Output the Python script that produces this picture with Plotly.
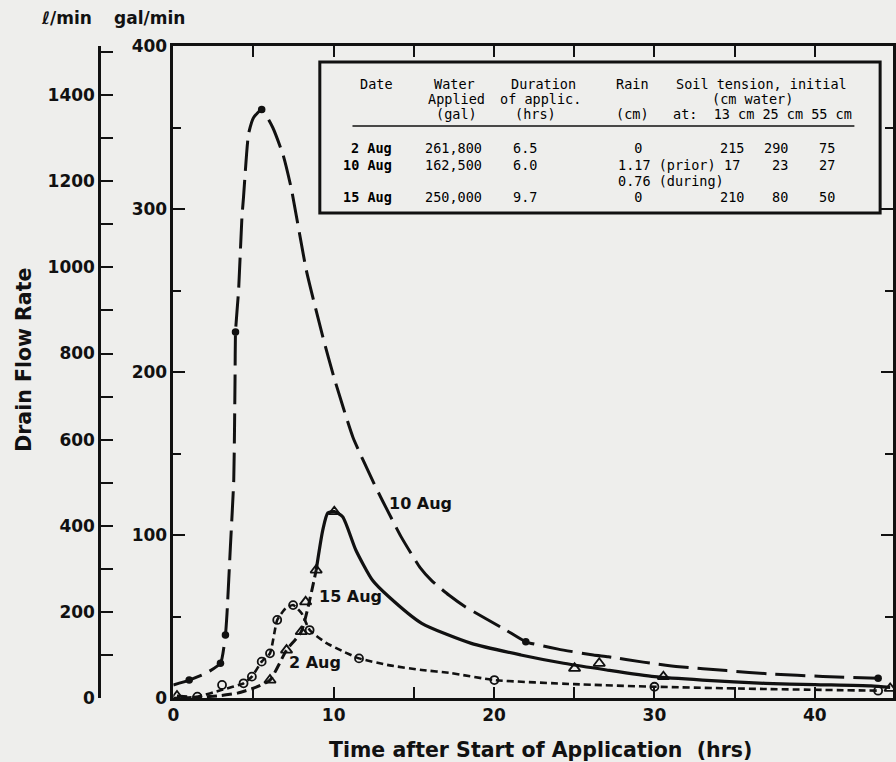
import plotly.graph_objects as go

GAL_TO_L = 3.78541

# ---------------- data ----------------
# 10 Aug (long dashes, filled dots)
aug10_t = [0.0, 0.99, 2.0, 2.94, 3.25, 3.35, 3.56, 3.77, 3.85, 3.88, 4.07, 4.28, 4.38, 4.69, 5.0, 5.51,
           6.2, 6.85, 7.37, 8.29, 9.32, 10.04, 11.2, 12.51, 13.02, 14.2, 15.39, 16.11, 17.2, 18.2, 20.74,
           21.98, 24.0, 26.19, 27.12, 29.3, 31.54, 34.5, 37.3, 40.5, 43.4, 43.95]
aug10_q = [8, 11, 15, 21.3, 38.6, 52, 92.8, 134, 196, 224.6, 250, 295, 307.5, 346, 356, 361,
           350, 333, 312, 262.6, 221.7, 196, 160, 131.7, 121.5, 99, 80, 72, 63, 56, 41.7,
           34.5, 30, 26.4, 25.3, 22, 19.2, 16.8, 14.7, 13.2, 12.3, 12.1]
aug10_pt_t = [0.99, 2.94, 3.25, 3.88, 5.51, 21.98, 43.95]
aug10_pt_q = [11, 21.3, 38.6, 224.6, 361, 34.5, 12.1]

# 15 Aug (solid, open triangles)
aug15_early_t = [0.23, 1.5, 3.0, 4.0, 5.0, 6.03, 7.06, 7.98, 8.91]
aug15_early_q = [1.2, 0.5, 1.5, 3, 6, 11, 29.4, 40.7, 78.5]
aug15_t = [8.91, 9.32, 9.63, 10.04, 10.56, 11.38, 12.41, 13.44, 15.49, 18.58, 21.67, 24.34,
           27.02, 30.0, 33.0, 36.9, 40.0, 43.5, 44.7]
aug15_q = [78.5, 103, 113.5, 114.3, 111.2, 90.8, 72.4, 62.1, 45.8, 33.5, 26.4, 21.3,
           17.2, 13.1, 11, 9, 8.2, 7.4, 6.5]
aug15_pt_t = [0.23, 6.03, 7.06, 7.98, 8.25, 8.91, 10.04, 25.02, 26.56, 30.56, 44.7]
aug15_pt_q = [1.2, 11, 29.4, 40.7, 59, 78.5, 114.3, 18.2, 21.3, 13.1, 5.9]

# 2 Aug (short dashes, open circles)
aug2_t = [0, 1.5, 3.04, 4.38, 4.9, 5.51, 6.03, 6.48, 7.0, 7.47, 8.0, 8.5, 9.5, 10.5, 11.58,
          13.5, 15.49, 17.3, 20.02, 25.0, 30.0, 37.0, 43.95]
aug2_q = [0, 0.8, 5, 9, 13.1, 22.3, 27.4, 47.9, 55, 57, 52, 41.7, 34, 29, 24.3,
          20, 17.2, 15.3, 11, 8.5, 6.9, 5.5, 4.5]
aug2_pt_t = [1.5, 3.04, 4.38, 4.9, 5.51, 6.03, 6.48, 7.47, 8.5, 11.58, 20.02, 30.0, 43.95]
aug2_pt_q = [0.8, 8, 9, 13.1, 22.3, 27.4, 47.9, 57, 41.7, 24.3, 11, 6.9, 4.5]

# axis ticks
x_ticks = [0, 10, 20, 30, 40]
x_minor = [5, 15, 25, 35]
gal_ticks = [0, 100, 200, 300, 400]
gal_minor = [50, 150, 250, 350]
lmin_ticks = list(range(0, 1600, 100))
lmin_labels = [str(v) if v % 200 == 0 else "" for v in lmin_ticks]

# table text
tbl_dates = ["2 Aug", "10 Aug", "", "15 Aug"]
tbl_water = ["261,800", "162,500", "", "250,000"]
tbl_dur = ["6.5", "6.0", "", "9.7"]
tbl_rain = ["  0", "1.17 (prior)", "0.76 (during)", "  0"]
tbl_13 = ["215", "17", "", "210"]
tbl_25 = ["290", "23", "", "80"]
tbl_55 = ["75", "27", "", "50"]

# ---------------- layout helpers ----------------
W, H = 896, 762
ML, MR, MT, MB = 0, 0, 46, 64
PW, PH = W - ML - MR, H - MT - MB


def px(x):
    return (x - ML) / PW


def py(y):
    return (H - MB - y) / PH


INK = "#111111"
BG = "#eeeeec"
X0 = 169
XR = [0, (W - X0) / 16.2]

fig = go.Figure()

# curves
fig.add_trace(go.Scatter(x=aug10_t, y=aug10_q, mode="lines",
                         line=dict(color=INK, width=3, dash="30px,9px", shape="spline", smoothing=0.5)))
fig.add_trace(go.Scatter(x=aug10_pt_t, y=aug10_pt_q, mode="markers",
                         marker=dict(symbol="circle", size=7.5, color=INK)))

fig.add_trace(go.Scatter(x=aug15_early_t, y=aug15_early_q, mode="lines",
                         line=dict(color=INK, width=3, dash="10px,5px", shape="spline", smoothing=0.5)))
fig.add_trace(go.Scatter(x=aug15_t, y=aug15_q, mode="lines",
                         line=dict(color=INK, width=3.2, shape="spline", smoothing=0.6)))
fig.add_trace(go.Scatter(x=aug15_pt_t, y=aug15_pt_q, mode="markers",
                         marker=dict(symbol="triangle-up-open", size=10, color=INK, line=dict(width=1.8))))

fig.add_trace(go.Scatter(x=aug2_t, y=aug2_q, mode="lines",
                         line=dict(color=INK, width=2.6, dash="7px,4px", shape="spline", smoothing=0.5)))
fig.add_trace(go.Scatter(x=aug2_pt_t, y=aug2_pt_q, mode="markers",
                         marker=dict(symbol="circle-open", size=8, color=INK, line=dict(width=1.8))))

# second (l/min) axis carrier trace, invisible
fig.add_trace(go.Scatter(x=[0], y=[0], yaxis="y2", mode="markers",
                         marker=dict(size=0.1, opacity=0), hoverinfo="skip"))

tickfont = dict(family="DejaVu Sans", size=17, color=INK, weight="bold")

fig.update_layout(
    width=W, height=H,
    margin=dict(l=ML, r=MR, t=MT, b=MB),
    paper_bgcolor=BG, plot_bgcolor=BG,
    showlegend=False, hovermode=False,
    xaxis=dict(domain=[px(X0), 1], range=XR, showgrid=False, zeroline=False,
               showline=True, linecolor=INK, linewidth=2.5, mirror="ticks",
               tickvals=x_ticks, ticks="inside", ticklen=11, tickwidth=2.2, tickcolor=INK,
               minor=dict(tickvals=x_minor, ticks="inside", ticklen=11, tickwidth=2.2, tickcolor=INK),
               tickfont=tickfont),
    yaxis=dict(range=[0, 400], showgrid=False, zeroline=False,
               showline=True, linecolor=INK, linewidth=2.5, mirror="ticks",
               tickvals=gal_ticks, ticks="inside", ticklen=12, tickwidth=2.2, tickcolor=INK,
               minor=dict(tickvals=gal_minor, ticks="inside", ticklen=8, tickwidth=2.2, tickcolor=INK),
               tickfont=tickfont),
    yaxis2=dict(range=[0, 400 * GAL_TO_L], overlaying="y", anchor="free", position=px(94), side="left",
                showgrid=False, zeroline=False, showline=True, linecolor=INK, linewidth=2.5,
                tickvals=lmin_ticks, ticktext=lmin_labels, ticks="inside", ticklen=12, tickwidth=2.2,
                tickcolor=INK, tickfont=tickfont),
)

ann = []


def note(text, x, y, size, xanchor="center", angle=0, ref="paper"):
    ann.append(dict(text=text, x=x, y=y, xref=ref, yref=ref.replace("x", "y"), xanchor=xanchor,
                    yanchor="middle", textangle=angle, showarrow=False,
                    font=dict(family="DejaVu Sans", size=size, color=INK, weight="bold")))


# axis titles and unit labels
note("Drain Flow Rate", px(18), py(360), 20.5, angle=-90)
note("Time after Start of Application  (hrs)", px(540), py(750), 20.5)
note("ℓ/min", px(89), py(18), 17, xanchor="right")
note("gal/min", px(107), py(18), 17, xanchor="left")

# curve labels
note("10 Aug", 15.4, 119.6, 16, ref="x")
note("15 Aug", 11.05, 62, 16, ref="x")
note("2 Aug", 8.86, 21.5, 16, ref="x")

# table
tf = dict(family="DejaVu Sans Mono", size=13.5, color="#000000")


def cell(text, x, y, anchor="center"):
    ann.append(dict(text=text, x=px(x), y=py(y), xref="paper", yref="paper", xanchor=anchor,
                    yanchor="middle", showarrow=False, font=tf))


cell("Date", 374, 84)
cell("Water", 453, 84)
cell("Applied", 455, 99)
cell("(gal)", 455, 114)
cell("Duration", 543, 84)
cell("of applic.", 540, 99)
cell("(hrs)", 535, 114)
cell("Rain", 633, 84)
cell("(cm)", 633, 114)
cell("Soil tension, initial", 763, 84)
cell("(cm water)", 754, 99)
cell("at:  13 cm 25 cm 55 cm", 672, 114, "left")

row_y = [148, 165, 181, 197]
for i, yy in enumerate(row_y):
    if tbl_dates[i]:
        cell("<b>" + tbl_dates[i] + "</b>", 392, yy, "right")
    if tbl_water[i]:
        cell(tbl_water[i], 452, yy)
    if tbl_dur[i]:
        cell(tbl_dur[i], 524, yy)
    cell(tbl_rain[i], 616, yy, "left")
    if tbl_13[i]:
        cell(tbl_13[i], 733, yy)
    if tbl_25[i]:
        cell(tbl_25[i], 792, yy, "right")
    if tbl_55[i]:
        cell(tbl_55[i], 839, yy, "right")

fig.update_layout(annotations=ann)

shapes = [
    dict(type="rect", xref="paper", yref="paper", x0=px(317), x1=px(883), y0=py(213), y1=py(62),
         line=dict(color=INK, width=3), fillcolor=BG, layer="above"),
    dict(type="line", xref="paper", yref="paper", x0=px(350), x1=px(857), y0=py(126), y1=py(126),
         line=dict(color=INK, width=1.5)),
]
fig.update_layout(shapes=shapes)

fig.write_html("out.html", config={"displayModeBar": False},
               post_script="document.body.style.margin='0';")
